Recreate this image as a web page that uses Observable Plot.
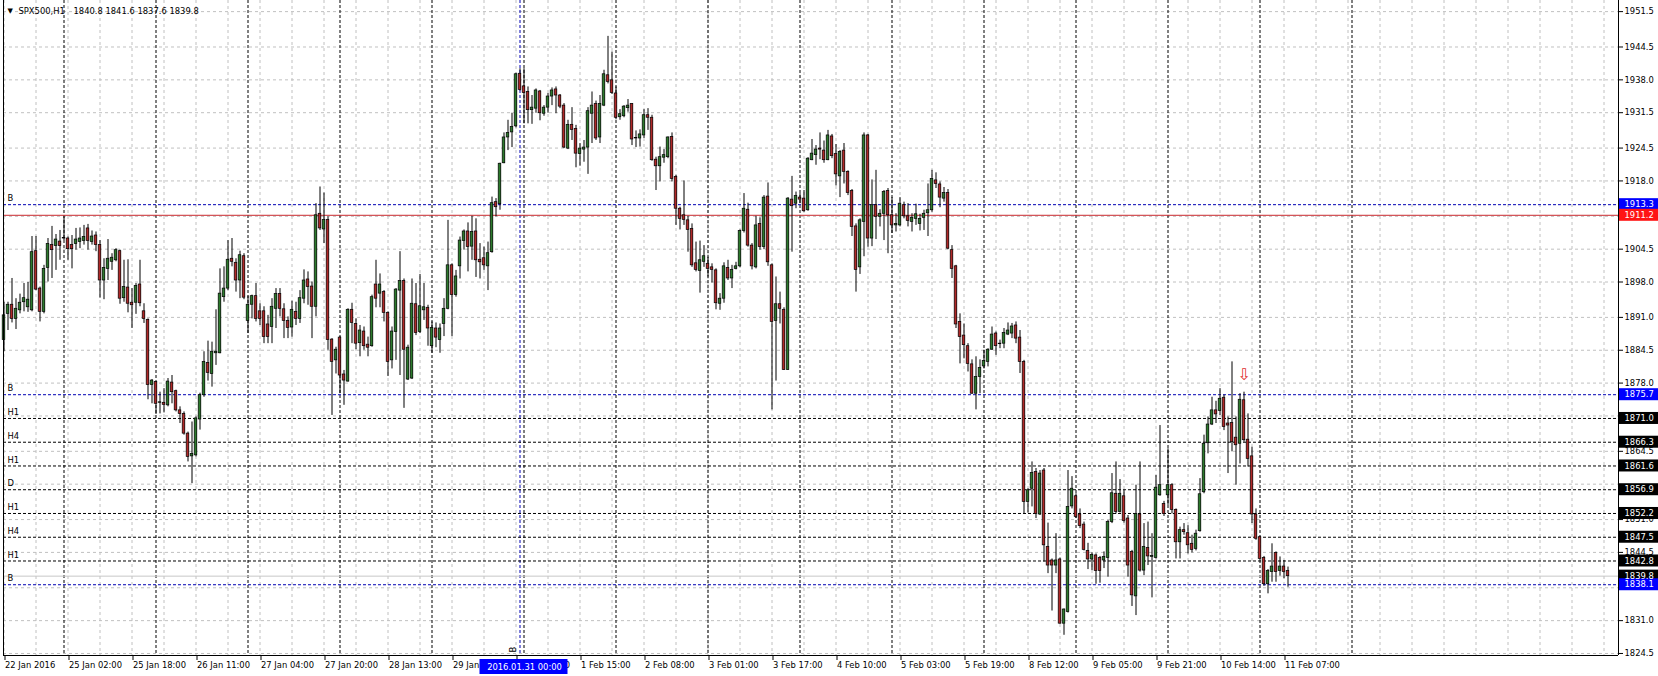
<!DOCTYPE html>
<html><head><meta charset="utf-8">
<script src="https://cdn.jsdelivr.net/npm/d3@7"></script>
<script src="https://cdn.jsdelivr.net/npm/@observablehq/plot@0.6"></script>
<style>html,body{margin:0;padding:0;background:#fff;} svg{display:block;}</style>
</head><body><div id="chart"></div>
<script>
// ---------- data (hourly bars, index 0 = first bar on 22 Jan 2016) ----------
const symbolTitle = "SPX500,H1";
const lastOHLC = [1840.8, 1841.6, 1837.6, 1839.8];

const open = [
1886.5,1891.7,1893.5,1890.7,1892.4,1894.0,1893.0,1892.4,1904.1,1896.7,
1892.1,1900.8,1905.3,1905.1,1906.0,1906.7,1906.6,1905.3,1905.5,1905.9,
1906.1,1908.6,1905.9,1907.2,1905.3,1898.3,1900.6,1902.0,1902.3,1904.1,
1894.8,1896.9,1893.9,1893.9,1897.5,1892.2,1890.5,1877.6,1878.2,1874.1,
1874.1,1873.6,1878.1,1876.4,1872.6,1871.9,1868.0,1863.5,1863.7,1870.8,
1875.6,1882.0,1879.8,1883.9,1883.9,1895.0,1896.7,1902.6,1901.8,1898.3,
1903.1,1890.3,1893.5,1895.2,1892.2,1892.2,1889.6,1889.1,1892.7,1895.6,
1892.6,1890.3,1889.0,1892.1,1890.7,1894.7,1898.5,1897.1,1893.1,1911.5,
1908.4,1910.3,1886.6,1882.5,1887.0,1879.7,1878.3,1892.5,1889.7,1885.9,
1888.2,1885.6,1885.3,1897.5,1895.7,1896.0,1891.9,1882.5,1888.1,1896.3,
1898.2,1878.7,1878.9,1893.6,1888.1,1892.4,1892.9,1885.3,1888.8,1886.5,
1889.7,1892.7,1901.3,1895.4,1901.1,1906.1,1908.0,1905.0,1908.0,1902.4,
1902.7,1901.1,1903.9,1913.8,1913.4,1921.5,1926.6,1927.6,1928.8,1939.2,
1936.7,1935.6,1932.0,1932.3,1935.7,1931.3,1932.5,1934.7,1936.1,1934.9,
1932.9,1924.4,1929.1,1928.3,1923.3,1924.2,1924.6,1931.3,1933.2,1926.6,
1932.9,1938.9,1937.9,1935.3,1930.6,1930.8,1932.4,1933.2,1926.4,1926.4,
1927.0,1931.0,1930.5,1922.2,1920.9,1922.6,1922.7,1926.7,1918.8,1912.5,
1911.2,1910.2,1908.5,1901.7,1900.2,1902.0,1901.6,1900.9,1900.3,1893.7,
1894.7,1900.8,1898.7,1900.6,1901.1,1908.1,1912.3,1905.2,1900.9,1909.5,
1904.9,1914.9,1901.3,1890.3,1893.6,1892.5,1880.6,1914.3,1913.5,1914.7,
1914.5,1912.2,1922.1,1923.1,1924.4,1924.0,1922.1,1926.8,1923.3,1918.9,
1924.0,1919.8,1916.0,1909.0,1900.9,1909.9,1927.0,1906.6,1913.2,1910.9,
1911.5,1916.0,1911.2,1909.2,1909.2,1913.2,1911.0,1909.9,1910.5,1909.5,
1910.7,1911.6,1912.2,1918.1,1917.3,1914.5,1915.6,1904.3,1901.1,1890.1,
1887.4,1885.3,1881.7,1875.9,1879.2,1881.3,1882.2,1884.6,1887.8,1885.7,
1885.8,1887.6,1887.8,1889.4,1887.0,1882.2,1854.5,1857.1,1860.4,1852.0,
1860.7,1845.6,1842.9,1841.9,1843.1,1830.4,1832.7,1853.6,1855.6,1852.0,
1850.0,1844.8,1843.1,1843.9,1843.4,1842.9,1843.4,1850.5,1856.1,1852.5,
1855.6,1851.2,1844.6,1835.8,1852.0,1840.9,1845.4,1843.6,1843.4,1855.8,
1854.1,1855.8,1857.8,1852.9,1846.5,1848.9,1848.3,1846.2,1845.2,1848.7,
1856.4,1866.1,1869.8,1872.6,1872.5,1875.1,1870.0,1870.1,1867.2,1866.0,
1874.6,1866.8,1863.5,1852.0,1847.5,1843.4,1838.2,1840.6,1844.4,1840.8,
1841.7,1840.8];

const close = [
1891.4,1893.5,1890.7,1892.7,1893.9,1894.8,1894.5,1903.9,1896.5,1892.1,
1900.6,1905.5,1904.3,1906.4,1905.1,1906.6,1904.5,1904.5,1906.4,1906.6,
1906.9,1906.1,1907.0,1905.3,1898.3,1900.8,1902.6,1902.8,1904.3,1894.7,
1897.0,1893.7,1893.4,1897.2,1893.8,1890.7,1877.6,1878.5,1873.9,1874.2,
1873.7,1878.3,1876.2,1872.6,1871.9,1868.0,1863.4,1864.0,1871.0,1875.6,
1882.2,1880.0,1884.2,1884.2,1895.7,1896.7,1902.4,1902.0,1898.3,1903.3,
1894.9,1893.5,1895.2,1890.7,1890.7,1887.1,1887.1,1893.1,1895.6,1892.7,
1890.3,1888.9,1892.5,1890.7,1894.8,1898.3,1897.0,1893.1,1911.2,1908.6,
1910.3,1886.5,1882.2,1884.6,1879.5,1878.5,1892.5,1889.9,1885.8,1888.4,
1885.3,1885.0,1895.0,1894.7,1897.5,1891.9,1882.2,1888.2,1896.5,1898.2,
1884.6,1885.0,1893.7,1887.9,1893.2,1893.0,1888.8,1888.9,1887.0,1888.8,
1892.7,1901.3,1895.4,1899.1,1906.2,1908.0,1904.9,1907.9,1902.3,1901.9,
1901.3,1903.7,1913.6,1912.8,1921.4,1926.6,1927.5,1928.7,1939.1,1936.0,
1935.4,1932.0,1932.5,1935.9,1931.4,1932.5,1934.7,1935.9,1934.9,1932.7,
1924.6,1929.1,1928.1,1923.4,1924.4,1924.6,1931.8,1932.9,1926.4,1933.2,
1939.1,1937.6,1935.4,1930.5,1931.2,1932.7,1932.9,1926.2,1926.5,1927.2,
1931.0,1930.5,1922.1,1920.9,1922.7,1923.1,1926.6,1918.4,1912.5,1910.5,
1910.3,1908.3,1901.3,1900.4,1902.3,1903.1,1900.6,1900.4,1893.8,1894.7,
1901.1,1898.7,1900.4,1901.1,1908.1,1912.5,1905.2,1901.1,1909.2,1904.9,
1914.7,1901.9,1890.1,1893.6,1892.7,1880.6,1914.5,1913.0,1915.0,1914.3,
1912.0,1922.4,1923.4,1924.2,1924.2,1922.1,1927.0,1922.9,1919.3,1923.7,
1919.8,1915.6,1908.9,1900.4,1910.2,1927.0,1906.6,1913.2,1910.9,1911.5,
1915.8,1911.2,1909.2,1909.5,1913.5,1911.0,1910.1,1910.7,1911.4,1910.5,
1911.5,1912.2,1918.4,1917.4,1914.7,1915.6,1904.6,1900.6,1889.6,1887.1,
1885.5,1881.8,1875.9,1879.2,1881.0,1882.4,1884.6,1887.6,1885.3,1885.8,
1887.9,1888.4,1889.2,1886.8,1882.2,1854.5,1856.8,1860.2,1852.1,1860.1,
1845.9,1841.9,1841.9,1842.9,1830.4,1833.2,1853.5,1857.1,1851.5,1849.7,
1845.0,1843.1,1844.0,1840.8,1840.8,1843.6,1850.5,1856.2,1852.5,1856.1,
1850.7,1841.9,1836.0,1852.1,1840.9,1845.6,1843.7,1843.8,1857.3,1857.8,
1852.1,1857.8,1852.9,1846.5,1848.9,1848.5,1845.9,1845.0,1848.2,1856.0,
1866.0,1869.8,1872.6,1871.8,1874.9,1869.3,1869.6,1866.3,1865.7,1874.7,
1866.7,1863.0,1852.0,1847.2,1843.2,1838.2,1840.8,1841.7,1840.6,1841.7,
1840.6,1839.8];

const high = [
1894.0,1894.0,1898.7,1894.7,1895.6,1897.7,1897.9,1907.0,1907.0,1897.0,
1901.3,1906.6,1909.0,1907.4,1908.2,1910.9,1906.9,1907.2,1908.6,1908.7,
1909.2,1909.4,1908.1,1907.9,1906.2,1902.6,1906.4,1903.6,1904.6,1904.3,
1902.3,1902.4,1896.7,1897.7,1902.3,1893.7,1890.7,1878.7,1878.3,1876.2,
1876.9,1878.9,1879.5,1876.6,1873.3,1872.3,1868.3,1870.3,1871.3,1876.0,
1884.2,1886.3,1886.1,1892.5,1900.6,1901.0,1906.2,1906.6,1902.6,1904.1,
1903.6,1895.2,1895.4,1897.7,1893.7,1893.1,1891.4,1894.7,1896.7,1896.7,
1893.7,1891.1,1894.2,1894.0,1896.3,1900.4,1900.0,1898.0,1913.5,1916.8,
1915.6,1910.9,1886.8,1885.1,1887.2,1880.5,1892.7,1893.8,1890.7,1889.4,
1889.1,1887.1,1895.4,1902.3,1899.6,1896.3,1892.1,1889.1,1896.7,1904.0,
1898.6,1885.5,1898.6,1897.7,1899.5,1897.7,1893.4,1890.1,1889.9,1889.7,
1894.7,1910.2,1901.6,1900.3,1906.9,1908.3,1909.7,1911.0,1910.5,1905.6,
1904.9,1905.9,1914.8,1914.5,1921.5,1927.5,1930.0,1931.4,1939.3,1940.2,
1940.2,1936.6,1934.9,1936.2,1935.9,1932.9,1935.3,1936.4,1936.6,1935.1,
1933.3,1930.0,1932.5,1929.0,1925.4,1926.0,1932.5,1935.6,1933.8,1934.9,
1939.9,1946.6,1943.5,1936.6,1932.1,1932.9,1934.1,1933.3,1927.9,1928.1,
1932.1,1932.3,1931.0,1922.7,1924.7,1924.2,1926.7,1927.5,1919.1,1912.8,
1918.0,1911.0,1909.5,1905.9,1906.1,1905.2,1902.9,1901.6,1900.6,1895.7,
1901.8,1902.3,1901.3,1901.9,1908.3,1915.5,1913.6,1905.6,1911.0,1910.7,
1915.1,1917.6,1901.6,1899.0,1896.0,1892.9,1914.7,1918.9,1915.8,1915.5,
1916.1,1922.6,1926.2,1925.0,1927.5,1925.9,1928.0,1927.2,1925.2,1924.0,
1925.4,1920.0,1916.3,1909.5,1910.5,1927.5,1927.2,1918.2,1920.1,1912.3,
1916.1,1916.5,1914.7,1911.5,1914.7,1913.8,1913.5,1911.5,1913.4,1911.4,
1912.2,1917.4,1920.1,1919.6,1917.8,1916.7,1916.3,1905.2,1901.3,1891.7,
1889.7,1885.8,1882.6,1883.2,1882.6,1884.5,1884.8,1889.1,1888.1,1886.5,
1888.8,1889.9,1889.8,1890.1,1888.4,1882.5,1857.1,1862.4,1861.1,1860.7,
1861.1,1850.3,1843.2,1848.2,1843.4,1833.3,1860.7,1859.5,1856.1,1853.1,
1850.5,1846.3,1844.4,1844.2,1843.7,1844.6,1850.8,1860.1,1862.4,1858.9,
1856.8,1851.8,1844.9,1857.8,1862.4,1850.2,1850.5,1848.2,1859.7,1869.6,
1854.6,1865.0,1858.1,1853.1,1849.5,1850.2,1849.8,1847.9,1848.9,1859.1,
1867.7,1871.3,1875.2,1874.4,1876.9,1875.6,1871.3,1882.2,1871.3,1875.9,
1876.2,1871.9,1865.3,1853.1,1847.7,1843.7,1841.1,1846.2,1844.6,1843.6,
1842.9,1841.6];

const low = [
1884.2,1888.4,1889.9,1888.6,1891.7,1892.1,1892.0,1892.1,1896.3,1890.1,
1891.7,1898.0,1898.7,1900.3,1902.3,1906.2,1902.3,1900.6,1904.3,1904.6,
1905.3,1904.3,1905.3,1904.0,1894.8,1894.5,1898.3,1900.3,1902.0,1893.6,
1894.0,1891.9,1888.8,1891.6,1893.1,1889.8,1874.7,1873.9,1871.8,1871.9,
1872.1,1873.3,1873.9,1872.3,1870.0,1867.7,1862.4,1858.1,1863.4,1868.7,
1875.2,1878.4,1877.2,1881.5,1883.8,1894.0,1896.3,1901.0,1896.0,1894.7,
1894.5,1887.8,1890.7,1890.1,1889.4,1885.8,1885.8,1885.8,1888.8,1891.1,
1886.8,1886.8,1887.1,1889.4,1889.8,1893.7,1893.4,1886.8,1891.1,1908.2,
1905.6,1884.5,1871.6,1879.8,1875.9,1873.6,1878.2,1885.8,1884.6,1883.2,
1884.5,1883.2,1885.1,1892.9,1892.9,1890.1,1879.3,1880.8,1882.5,1879.5,
1873.0,1878.5,1878.7,1887.4,1887.8,1890.4,1885.3,1883.9,1885.0,1883.9,
1887.2,1892.5,1887.2,1895.0,1898.6,1904.3,1900.0,1902.3,1898.9,1898.6,
1900.3,1896.3,1903.7,1910.9,1912.2,1921.4,1924.0,1924.6,1928.5,1935.8,
1929.3,1929.3,1929.2,1931.4,1929.9,1930.8,1931.4,1932.9,1931.3,1932.3,
1924.4,1924.2,1926.0,1920.6,1920.9,1921.7,1919.3,1925.4,1926.0,1925.4,
1932.7,1937.2,1935.1,1930.1,1930.0,1930.5,1931.6,1925.0,1924.6,1924.7,
1926.4,1928.0,1921.9,1916.1,1917.8,1921.5,1922.4,1917.8,1909.2,1908.3,
1909.2,1903.9,1900.9,1900.0,1895.8,1900.9,1899.0,1897.8,1892.5,1892.4,
1893.8,1898.3,1896.7,1900.4,1900.8,1907.7,1904.9,1900.4,1900.6,1904.3,
1904.4,1901.1,1872.7,1878.4,1889.7,1880.5,1880.5,1903.9,1912.5,1913.5,
1911.8,1912.0,1922.0,1921.1,1922.2,1921.5,1922.0,1922.4,1917.0,1914.7,
1917.4,1915.1,1907.0,1896.0,1899.5,1903.0,1904.9,1905.0,1906.4,1908.9,
1906.2,1903.6,1907.6,1907.9,1908.9,1910.5,1908.9,1907.9,1909.2,1908.1,
1908.2,1907.0,1911.8,1916.5,1912.7,1913.8,1904.4,1898.7,1888.8,1881.8,
1882.8,1880.2,1875.8,1872.7,1875.9,1880.8,1881.2,1884.5,1883.5,1884.8,
1884.8,1887.4,1886.8,1885.8,1879.9,1852.1,1852.3,1853.5,1851.2,1851.8,
1842.6,1840.3,1832.9,1840.3,1830.3,1828.1,1832.5,1853.1,1851.2,1849.2,
1844.8,1841.1,1840.9,1838.2,1838.4,1841.3,1839.6,1850.2,1852.1,1852.3,
1850.3,1839.6,1833.8,1832.0,1840.6,1839.9,1841.9,1835.5,1843.2,1855.6,
1851.6,1853.8,1852.1,1843.2,1843.2,1847.9,1844.2,1844.4,1844.8,1848.5,
1856.1,1864.0,1869.6,1870.0,1871.6,1868.6,1860.1,1864.4,1857.8,1862.0,
1866.3,1861.4,1850.2,1846.9,1842.9,1837.8,1836.3,1838.6,1838.6,1839.8,
1839.3,1837.6];

// time axis labels (bar index -> text)
const xTickIdx = [0,16,32,48,64,80,96,112,128,144,160,176,192,208,224,240,256,272,288,304,320];
const xTickText = ["22 Jan 2016","25 Jan 02:00","25 Jan 18:00","26 Jan 11:00","27 Jan 04:00",
  "27 Jan 20:00","28 Jan 13:00","29 Jan 06:00","29 Jan 22:00","1 Feb 15:00","2 Feb 08:00",
  "3 Feb 01:00","3 Feb 17:00","4 Feb 10:00","5 Feb 03:00","5 Feb 19:00","8 Feb 12:00",
  "9 Feb 05:00","9 Feb 21:00","10 Feb 14:00","11 Feb 07:00"];

// price axis
const yTickLabels = [1951.5,1944.5,1938.0,1931.5,1924.5,1918.0,1904.5,1898.0,1891.0,1884.5,
  1878.0,1871.5,1864.5,1851.0,1844.5,1837.5,1831.0,1824.5];
const yGridExtra = [1911.0, 1858.0];

// horizontal level lines
const levelValues = [1913.3, 1911.2, 1875.7, 1871.0, 1866.3, 1861.6, 1856.9, 1852.2, 1847.5, 1842.8, 1839.8, 1838.1];
const levelNames  = ["B", "", "B", "H1", "H4", "H1", "D", "H1", "H4", "H1", "", "B"];
const levelKinds  = ["B", "R", "B", "L", "L", "L", "L", "L", "L", "L", "G", "B"];

// vertical markers
const dayStartIdx = [15,38,61,84,107,130,153,176,199,222,245,268,291,314,337];
const vLineIdx = 129;
const vLineLabel = "2016.01.31 00:00";
const vLineName = "B";
const arrowIdx = 310;
const arrowPrice = 1879.6;

// ---------- chart ----------
const X0 = -0.125, X1 = 403.625, Y0 = 1824.1, Y1 = 1953.7;
const bars = open.map((o, i) => ({
  i, o, c: close[i],
  h: Math.max(high[i], o, close[i]),
  l: Math.min(low[i], o, close[i])
}));
const levels = levelValues.map((v, k) => ({v, name: levelNames[k], kind: levelKinds[k]}));
const lineColor = {B: "#0000b4", L: "#000000", R: "#c8282d", G: "#c8c8c8"};
const boxColor  = {B: "#0000ff", L: "#000000", R: "#ff1414", G: "#000000"};
const xLabelMap = new Map(xTickIdx.map((d, k) => [d, xTickText[k]]));
const gridBars = d3.range(0, 404, 8);
const UP = "#2c7a2c", DOWN = "#b02828";

const chart = Plot.plot({
  width: 1658, height: 676,
  marginTop: 0, marginRight: 40, marginBottom: 21, marginLeft: 3,
  x: {type: "linear", domain: [X0, X1], axis: null},
  y: {type: "linear", domain: [Y0, Y1], axis: null},
  color: {type: "identity"},
  style: {fontFamily: "'DejaVu Sans', Verdana, sans-serif", fontSize: "8.4px", background: "#fff", color: "#000"},
  marks: [
    // grid
    Plot.ruleY([...yTickLabels, ...yGridExtra], {stroke: "#c0c0c0", strokeDasharray: "3,3"}),
    Plot.ruleX(gridBars, {stroke: "#c0c0c0", strokeDasharray: "3,3"}),
    // day separators
    Plot.ruleX(dayStartIdx, {stroke: "#000", strokeDasharray: "3,2"}),
    // vertical B line
    Plot.ruleX([vLineIdx], {stroke: "#0000b4", strokeDasharray: "3,2"}),
    // level lines
    Plot.ruleY(levels.filter(d => d.kind === "B" || d.kind === "L"),
      {y: "v", stroke: d => lineColor[d.kind], strokeDasharray: "3,2"}),
    Plot.ruleY(levels.filter(d => d.kind === "R" || d.kind === "G"),
      {y: "v", stroke: d => lineColor[d.kind]}),
    // candles
    Plot.ruleX(bars, {x: "i", y1: "l", y2: "h", stroke: "#000", strokeWidth: 1}),
    Plot.rect(bars, {x1: d => d.i - 0.5, x2: d => d.i + 0.5, y1: "o", y2: "c",
      insetLeft: 0.7, insetRight: 0.7, fill: d => d.c >= d.o ? UP : DOWN, stroke: "#000", strokeWidth: 0.7}),
    // level names at left
    Plot.text(levels.filter(d => d.name), {x: () => X0, y: "v", text: "name", dx: 4, dy: -6, textAnchor: "start"}),
    // signal arrow
    Plot.text([{i: arrowIdx, v: arrowPrice}], {x: "i", y: "v", text: () => "\u21E9", fill: "#e0302f", fontSize: 16}),
    // frame
    Plot.ruleX([X0], {stroke: "#000"}),
    Plot.ruleX([X1], {stroke: "#000"}),
    Plot.ruleY([Y0], {stroke: "#000"}),
    // axes
    Plot.axisY(yTickLabels, {anchor: "right", tickSize: 4, tickPadding: 2, tickFormat: d => d.toFixed(1), label: null}),
    Plot.axisX(xTickIdx, {anchor: "bottom", tickSize: 5, tickPadding: 2, textAnchor: "start", dx: 1,
      tickFormat: d => xLabelMap.get(d), label: null}),
    // level price boxes
    Plot.rect(levels, {x1: () => X1, x2: () => X1, y1: "v", y2: "v",
      insetLeft: 1, insetRight: -40, insetTop: -6, insetBottom: -6, fill: d => boxColor[d.kind]}),
    Plot.text(levels, {x: () => X1, y: "v", text: d => d.v.toFixed(1), dx: 6, textAnchor: "start", fill: "#fff"}),
    // vertical line time box
    Plot.rect([vLineIdx], {x1: d => d, x2: d => d, y1: () => Y0, y2: () => Y0,
      insetLeft: -40, insetRight: -48, insetTop: 4, insetBottom: -19, fill: "#0000ff"}),
    Plot.text([vLineLabel], {x: () => vLineIdx, y: () => Y0, dx: 4.5, dy: 11.5, fill: "#fff", textAnchor: "middle"}),
    Plot.text([vLineName], {x: () => vLineIdx, y: () => Y0, dx: -7, dy: -6, rotate: -90}),
    // header
    Plot.text(["\u25BC"], {frameAnchor: "top-left", dx: 4, dy: 8, fontSize: 7}),
    Plot.text([symbolTitle], {frameAnchor: "top-left", dx: 15, dy: 8, textAnchor: "start"}),
    Plot.text([lastOHLC.map(d => d.toFixed(1)).join(" ")], {frameAnchor: "top-left", dx: 70, dy: 8, textAnchor: "start"})
  ]
});
document.getElementById("chart").appendChild(chart);
</script></body></html>
